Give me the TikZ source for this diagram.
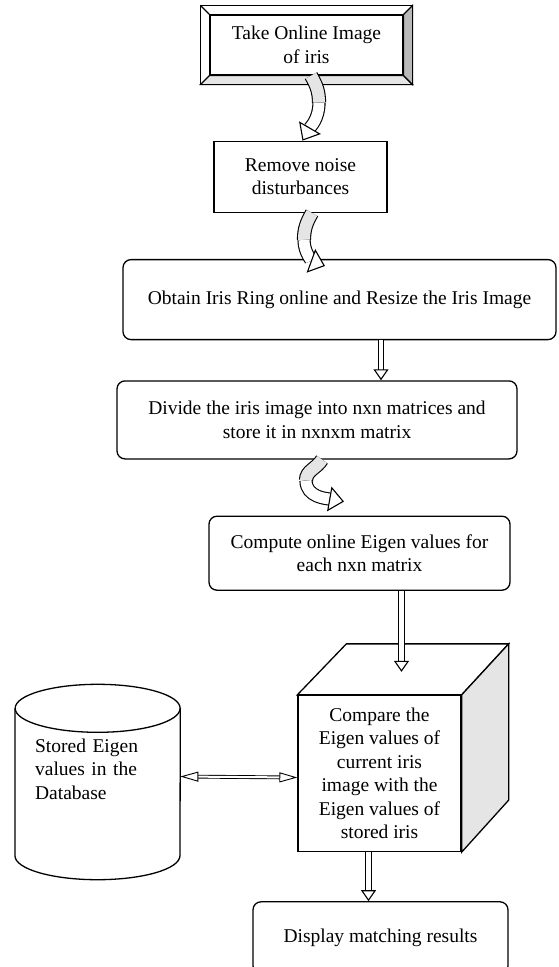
\documentclass[tikz,border=0pt]{standalone}
\usepackage{fontspec}
\setmainfont{Liberation Serif}
\usetikzlibrary{arrows.meta, calc, positioning}

\newcommand{\flowfont}{\fontsize{19.5pt}{23.5pt}\selectfont}

\tikzset{
  stepbox/.style={draw, line width=1.3pt, font=\flowfont, align=center, inner sep=0pt},
  roundbox/.style={stepbox, rounded corners=8pt},
  blockarrow/.style={double, double distance=4.5pt, line width=1.1pt,
    -{Triangle[fill=white, width=15pt, length=11pt, line width=1.1pt]}},
  ribbon/.style={double=gray!20, double distance=12pt, line width=1.1pt},
  ribbonhead/.style={double=white, double distance=11pt, line width=1.1pt,
    -{Triangle[fill=white, width=25pt, length=15pt, line width=1.1pt]}},
  linkarrow/.style={double, double distance=2pt, line width=0.9pt,
    {Triangle[fill=white, width=10pt, length=18pt, line width=0.9pt]}-{Triangle[fill=white, width=10pt, length=18pt, line width=0.9pt]}}
}

\begin{document}
\begin{tikzpicture}[x=1pt, y=1pt]
\useasboundingbox (0,0) rectangle (559,-967);
\draw
    node [stepbox, minimum width=193pt, minimum height=60pt] at (306.5,-45) (take) {Take Online Image\\of iris}
    node [stepbox, minimum width=173pt, minimum height=71pt, below=65pt of take, xshift=-6pt] (remove) {Remove noise\\disturbances}
    node [roundbox, minimum width=433pt, minimum height=80pt, below=46pt of remove, xshift=39pt] (ring) {Obtain Iris Ring online and Resize the Iris Image}
    node [roundbox, minimum width=400pt, minimum height=78pt, below=40pt of ring, xshift=-22.5pt] (divide) {Divide the iris image into nxn matrices and\\store it in nxnxm matrix}
    node [roundbox, minimum width=301pt, minimum height=74pt, below=56pt of divide, xshift=42.5pt] (compute) {Compute online Eigen values for\\each nxn matrix}
    node [stepbox, minimum width=163pt, minimum height=156pt, below=104pt of compute, xshift=20pt] (compare) {Compare the\\Eigen values of\\current iris\\image with the\\Eigen values of\\stored iris}
    node [roundbox, minimum width=255pt, minimum height=72pt, below=49pt of compare, xshift=1pt] (display) {Display matching results}
    node [font=\flowfont, align=left, text width=125pt, inner sep=0pt, minimum width=165pt, minimum height=173pt, left=117pt of compare, yshift=4.5pt] (db) {Stored Eigen\\values in the\\Database}
;
% bevel round the first box
\filldraw[fill=gray!20, line width=1.1pt] (take.south west) -- (take.south east) -- ++(9,-9) -- ([shift={(-9,-9)}]take.south west) -- cycle;
\filldraw[fill=gray!55, line width=1.1pt] (take.north east) -- ++(9,9) -- ([shift={(9,-9)}]take.south east) -- (take.south east) -- cycle;
\draw[line width=1.1pt] (take.north west) -- ++(-9,9);
\draw[line width=1.3pt] ([shift={(-9,9)}]take.north west) rectangle ([shift={(9,-9)}]take.south east);
% cube sides
\filldraw[fill=white, line width=1.3pt] (compare.north west) -- ++(49,51) -- ([shift={(47,51)}]compare.north east) -- (compare.north east) -- cycle;
\filldraw[fill=gray!20, line width=1.3pt] (compare.north east) -- ++(47,51) -- ([shift={(47,52)}]compare.south east) -- (compare.south east) -- cycle;
% database cylinder
\draw[line width=1.3pt] ([yshift=-26]db.north west) -- (db.south west) arc[start angle=180, end angle=360, x radius=82.5, y radius=24] -- ([yshift=-26]db.north east);
\draw[line width=1.3pt] ([yshift=-26]db.north) ellipse [x radius=82.5, y radius=24];
% curved arrows
\coordinate (bend1) at ([shift={(12.5,-27)}]take.south);
\coordinate (bend2) at ([shift={(3.5,-27)}]remove.south);
\coordinate (bend3) at ([shift={(-11,-21)}]divide.south);
\draw[ribbon] ([xshift=4.5]take.south) to[out=-60, in=90] (bend1);
\draw[ribbonhead] (bend1) to[out=-90, in=60] ([xshift=2]remove.north);
\draw[ribbon] ([xshift=11.5]remove.south) to[out=-120, in=90] (bend2);
\draw[ribbonhead] (bend2) to[out=-90, in=160] ([shift={(-14.5,-7)}]ring.north);
\draw[ribbon] ([xshift=5]divide.south) to[out=-120, in=90] (bend3);
\draw[ribbonhead] (bend3) to[out=-90, in=170] ([shift={(-15.5,14)}]compute.north);
% straight arrows
\draw[blockarrow] ([xshift=41.5]ring.south) -- ([xshift=64]divide.north);
\draw[blockarrow] ([xshift=42]compute.south) -- ([shift={(22,23)}]compare.north);
\draw[blockarrow] ([xshift=-11]compare.south) -- ([xshift=-12]display.north);
\draw[linkarrow] ([yshift=-7.5]db.east) -- ([yshift=-4]compare.west);
\end{tikzpicture}
\end{document}
